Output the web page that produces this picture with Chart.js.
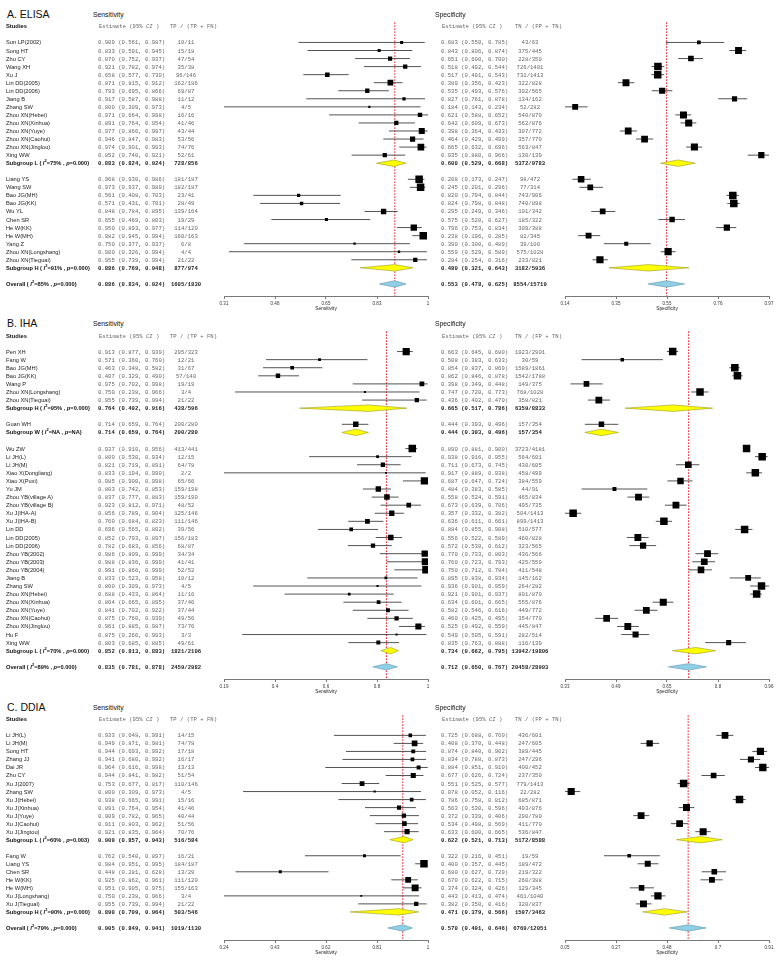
<!DOCTYPE html>
<html><head><meta charset="utf-8">
<script src="https://cdn.jsdelivr.net/npm/chart.js@4/dist/chart.umd.min.js"></script>
<style>
html,body{margin:0;padding:0;background:#fff;}
#page{position:relative;width:778px;height:962px;overflow:hidden;background:#fff;}
.t{position:absolute;white-space:pre;line-height:1;}
.t sup{font-size:70%;line-height:0;vertical-align:super;}
canvas{position:absolute;}
</style></head><body><div id="page"></div>
<script>
// ================= DATA =================
// ---- A. ELISA ----
const A_labels = ["Sun LP(2002)","Song HT","Zhu CY","Wang XH","Xu J","Lin DD(2005)","Lin DD(2006)","Jiang B","Zhang SW","Zhou XN(Hebei)","Zhou XN(Xinhua)","Zhou XN(Yuye)","Zhou XN(Caohui)","Zhou XN(Jinglou)","Xing WW","Subgroup L ( I²=75% , p=0.000)","","Liang YS","Wang SW","Bao JG(MH)","Bao JG(KK)","Wu YL","Chen SR","He W(KK)","He W(MH)","Yang Z","Zhou XN(Longshang)","Zhou XN(Tieguai)","Subgroup H ( I²=91% , p=0.000)","","Overall ( I²=85% , p=0.000)"];
const A_kind = "sssssssssssssssg-sssssssssssg-o";
const A_sensEst = [0.909,0.833,0.870,0.921,0.658,0.871,0.793,0.917,0.800,0.971,0.891,0.977,0.946,0.974,0.852,0.883,null,0.968,0.973,0.561,0.571,0.848,0.655,0.950,0.982,0.750,0.900,0.955,0.886,null,0.886];
const A_sensLo = [0.561,0.591,0.752,0.782,0.577,0.815,0.695,0.587,0.309,0.664,0.764,0.866,0.847,0.901,0.740,0.824,null,0.930,0.937,0.408,0.431,0.784,0.469,0.893,0.945,0.377,0.326,0.739,0.769,null,0.834];
const A_sensHi = [0.987,0.945,0.937,0.974,0.730,0.912,0.866,0.988,0.973,0.998,0.954,0.997,0.983,0.993,0.921,0.924,null,0.986,0.989,0.703,0.701,0.895,0.803,0.977,0.994,0.937,0.994,0.994,0.948,null,0.924];
const A_tp = ["10/11","15/18","47/54","35/38","96/146","162/186","69/87","11/12","4/5","16/16","41/46","43/44","53/56","74/76","52/61","728/856","","181/187","182/187","23/41","28/49","139/164","19/29","114/120","160/163","6/8","4/4","21/22","877/974","","1605/1830"];
const A_specEst = [0.683,0.843,0.651,0.518,0.517,0.389,0.535,0.827,0.184,0.621,0.642,0.398,0.464,0.665,0.935,0.600,null,0.208,0.245,0.820,0.824,0.295,0.575,0.796,0.238,0.390,0.559,0.284,0.480,null,0.553];
const A_specLo = [0.550,0.806,0.600,0.492,0.491,0.356,0.493,0.761,0.143,0.588,0.609,0.364,0.429,0.632,0.880,0.529,null,0.173,0.201,0.794,0.798,0.249,0.520,0.753,0.196,0.300,0.529,0.254,0.321,null,0.478];
const A_specHi = [0.785,0.874,0.700,0.544,0.543,0.423,0.576,0.878,0.234,0.652,0.673,0.433,0.499,0.696,0.966,0.668,null,0.247,0.296,0.844,0.848,0.346,0.627,0.834,0.285,0.489,0.589,0.316,0.643,null,0.625];
const A_tn = ["43/63","375/445","228/350","726/1401","731/1413","322/828","302/565","134/162","52/282","540/870","562/876","307/772","357/770","563/847","130/139","5372/9783","","98/472","77/314","743/906","740/898","101/342","185/322","309/388","82/345","39/100","575/1028","233/821","3182/5936","","8554/15719"];
const A_sensAxis = [0.309, 0.998];
const A_sensTicks = ["0.31","0.48","0.65","0.83","1"];
const A_specAxis = [0.143, 0.966];
const A_specTicks = ["0.14","0.35","0.55","0.76","0.97"];

// ---- B. IHA ----
const B_labels = ["Pen XH","Fang W","Bao JG(MH)","Bao JG(KK)","Wang P","Zhou XN(Longshang)","Zhou XN(Tieguai)","Subgroup H ( I²=95% , p=0.000)","","Guan WH","Subgroup W ( I²=NA , p=NA)","","Wu ZW","Li JH(L)","Li JH(M)","Xiao X(Dongliang)","Xiao X(Puxi)","Yu JM","Zhou YB(village A)","Zhou YB(village B)","Xu J(IHA-A)","Xu J(IHA-B)","Lin DD","Lin DD(2005)","Lin DD(2006)","Zhou YB(2002)","Zhou YB(2003)","Zhou YB(2004)","Jiang B","Zhang SW","Zhou XN(Hebei)","Zhou XN(Xinhua)","Zhou XN(Yuye)","Zhou XN(Caohui)","Zhou XN(Jinglou)","Hu F","Xing WW","Subgroup L ( I²=70% , p=0.000)","","Overall ( I²=89% , p=0.000)"];
const B_kind = "sssssssg-sg-sssssssssssssssssssssssssg-o";
const B_sensEst = [0.913,0.571,0.463,0.407,0.975,0.750,0.955,0.764,null,0.714,0.714,null,0.937,0.800,0.821,0.833,0.985,0.803,0.837,0.923,0.856,0.760,0.696,0.852,0.782,0.986,0.988,0.991,0.833,0.800,0.688,0.804,0.841,0.875,0.961,0.875,0.803,0.852,null,0.835];
const B_sensLo = [0.877,0.360,0.348,0.329,0.702,0.238,0.739,0.492,null,0.659,0.659,null,0.910,0.530,0.719,0.194,0.900,0.742,0.777,0.812,0.789,0.684,0.565,0.793,0.683,0.809,0.836,0.866,0.523,0.309,0.433,0.665,0.702,0.760,0.885,0.266,0.685,0.813,null,0.781];
const B_sensHi = [0.939,0.760,0.582,0.490,0.998,0.966,0.994,0.916,null,0.764,0.764,null,0.956,0.934,0.891,0.990,0.998,0.853,0.883,0.971,0.904,0.823,0.802,0.897,0.856,0.999,0.999,0.999,0.958,0.973,0.864,0.895,0.922,0.939,0.987,0.993,0.885,0.883,null,0.878];
const B_tp = ["295/323","12/21","31/67","57/140","19/19","3/4","21/22","438/596","","200/280","200/280","","413/441","12/15","64/78","2/2","65/66","159/198","159/190","48/52","125/146","111/146","39/56","156/183","68/87","34/34","41/41","52/52","10/12","4/5","11/16","37/46","37/44","49/56","73/76","3/3","49/61","1821/2106","","2459/2982"];
const B_specEst = [0.663,0.508,0.854,0.862,0.398,0.747,0.436,0.665,null,0.444,0.444,null,0.890,0.938,0.711,0.917,0.687,0.484,0.558,0.673,0.357,0.636,0.884,0.556,0.572,0.770,0.760,0.750,0.895,0.936,0.921,0.634,0.582,0.460,0.525,0.549,0.835,0.734,null,0.712];
const B_specLo = [0.645,0.383,0.837,0.846,0.349,0.720,0.402,0.517,null,0.393,0.393,null,0.881,0.916,0.673,0.889,0.647,0.383,0.524,0.639,0.332,0.611,0.855,0.522,0.530,0.733,0.723,0.712,0.838,0.901,0.901,0.601,0.546,0.425,0.492,0.505,0.763,0.662,null,0.650];
const B_specHi = [0.680,0.633,0.869,0.878,0.448,0.773,0.470,0.786,null,0.496,0.496,null,0.900,0.955,0.745,0.938,0.724,0.585,0.591,0.706,0.382,0.661,0.908,0.589,0.612,0.803,0.793,0.784,0.934,0.959,0.937,0.665,0.616,0.495,0.559,0.591,0.888,0.795,null,0.767];
const B_tn = ["1923/2901","30/59","1589/1861","1542/1788","149/375","768/1028","358/821","6359/8833","","157/354","157/354","","3723/4181","564/601","430/605","458/499","384/559","44/91","465/834","495/735","504/1413","899/1413","510/577","460/828","323/565","436/566","425/559","411/548","145/162","264/282","801/870","555/876","449/772","354/770","445/847","282/514","116/139","13942/19806","","20458/28993"];
const B_sensAxis = [0.194, 0.999];
const B_sensTicks = ["0.19","0.4","0.6","0.8","1"];
const B_specAxis = [0.332, 0.959];
const B_specTicks = ["0.33","0.49","0.65","0.8","0.96"];

// ---- C. DDIA ----
const C_labels = ["Li JH(L)","Li JH(M)","Song HT","Zhang JJ","Dai JR","Zhu CY","Xu J(2007)","Zhang SW","Xu J(Hebei)","Xu J(Xinhua)","Xu J(Yuye)","Xu J(Caohui)","Xu J(Jingtou)","Subgroup L ( I²=60% , p=0.003)","","Fang W","Liang YS","Chen SR","He W(KK)","He W(MH)","Xu J(Longshang)","Xu J(Tiegual)","Subgroup H ( I²=90% , p=0.000)","","Overall ( I²=79% , p=0.000)"];
const C_kind = "sssssssssssssg-sssssssg-o";
const C_sensEst = [0.933,0.949,0.944,0.941,0.964,0.944,0.753,0.800,0.938,0.891,0.909,0.911,0.921,0.909,null,0.762,0.984,0.448,0.925,0.951,0.750,0.955,0.890,null,0.905];
const C_sensLo = [0.648,0.871,0.693,0.680,0.616,0.841,0.677,0.309,0.665,0.764,0.782,0.803,0.835,0.857,null,0.540,0.951,0.281,0.862,0.905,0.238,0.739,0.709,null,0.849];
const C_sensHi = [0.991,0.981,0.992,0.992,0.998,0.982,0.817,0.973,0.991,0.954,0.965,0.962,0.964,0.943,null,0.897,0.995,0.628,0.961,0.975,0.966,0.994,0.964,null,0.941];
const C_tp = ["14/15","74/78","17/18","16/17","13/13","51/54","110/146","4/5","15/16","41/46","40/44","51/56","70/76","516/584","","16/21","184/187","13/29","111/120","155/163","3/4","21/22","503/546","","1019/1130"];
const C_specEst = [0.725,0.408,0.874,0.834,0.884,0.677,0.551,0.078,0.786,0.563,0.372,0.534,0.633,0.622,null,0.322,0.400,0.680,0.670,0.374,0.443,0.382,0.471,null,0.570];
const C_specLo = [0.688,0.370,0.840,0.788,0.851,0.626,0.525,0.052,0.758,0.530,0.339,0.498,0.600,0.521,null,0.216,0.357,0.627,0.622,0.324,0.413,0.350,0.379,null,0.491];
const C_specHi = [0.760,0.448,0.902,0.873,0.910,0.724,0.577,0.116,0.812,0.596,0.406,0.569,0.665,0.713,null,0.451,0.445,0.729,0.715,0.426,0.474,0.416,0.566,null,0.646];
const C_tn = ["436/601","247/605","389/445","247/296","400/452","237/350","779/1413","22/282","685/871","493/876","290/780","411/770","536/847","5172/8588","","19/59","189/472","219/322","260/388","129/345","461/1040","320/837","1597/3463","","6769/12051"];
const C_sensAxis = [0.238, 0.999];
const C_sensTicks = ["0.24","0.43","0.62","0.81","1"];
const C_specAxis = [0.052, 0.910];
const C_specTicks = ["0.05","0.27","0.48","0.7","0.91"];

// ================= LAYOUT / STYLE =================
const ROW = 8.15;
const SENS_PX = [224, 428];
const SPEC_PX = [565, 769];
const SANS = "'Liberation Sans', Arial, sans-serif";
const MONO = "'Liberation Mono', 'Courier New', monospace";
const page = document.getElementById('page');

function txt(html, x, y, font, color, align) {
  const d = document.createElement('div');
  d.className = 't';
  d.innerHTML = html;
  d.style.left = x + 'px';
  d.style.top = y + 'px';
  d.style.font = font;
  d.style.color = color;
  const tx = align === 'center' ? '-50%' : (align === 'right' ? '-100%' : '0');
  d.style.transform = 'translate(' + tx + ',-50%)';
  page.appendChild(d);
}

function markSide(count, p) {
  const n = +count.split('/')[1];
  const w = n / (p * (1 - p));
  return Math.max(1.8, Math.min(7.5, 0.9 * Math.pow(w, 0.25)));
}

function forest(y0, kind, est, lo, hi, counts, axis, tickLabels, axisTitle, px) {
  const n = kind.length;
  const top = Math.round(y0 - 3 * ROW - 2);
  const h = Math.round(2 + (n + 3.5) * ROW + 16);
  const left = px[0] - 12, w = px[1] - px[0] + 24;
  const cv = document.createElement('canvas');
  cv.width = w; cv.height = h;
  cv.style.left = left + 'px'; cv.style.top = top + 'px';
  cv.style.width = w + 'px'; cv.style.height = h + 'px';
  page.appendChild(cv);

  const ci = [], sq = [], rad = [], datasets = [];
  const ov = est[n - 1];
  datasets.push({
    data: [{x: ov, y: -2.5}, {x: ov, y: n + 0.5}], showLine: true,
    borderColor: '#e8000b', borderWidth: 0.9, borderDash: [1.6, 1.4],
    pointRadius: 0, order: 10
  });
  for (let i = 0; i < n; i++) {
    const k = kind[i];
    if (k === 's') {
      ci.push({x: lo[i], y: i}, {x: hi[i], y: i}, {x: null, y: null});
      sq.push({x: est[i], y: i});
      rad.push(markSide(counts[i], est[i]) / (2 * Math.SQRT1_2));
    } else if (k === 'g' || k === 'o') {
      const hh = 0.4;
      datasets.push({
        data: [{x: lo[i], y: i}, {x: est[i], y: i - hh}, {x: hi[i], y: i}, {x: est[i], y: i + hh}, {x: lo[i], y: i}],
        showLine: true, fill: 'shape', tension: 0,
        backgroundColor: k === 'g' ? '#ffff00' : '#8fd0e6',
        borderColor: k === 'g' ? '#9a9a20' : '#5d93ab',
        borderWidth: 0.6, pointRadius: 0, order: 3
      });
    }
  }
  datasets.push({
    data: ci, showLine: true, spanGaps: false, borderColor: '#404040',
    borderWidth: 0.9, pointRadius: 0, order: 5
  });
  datasets.push({
    data: sq, showLine: false, pointStyle: 'rect', pointRadius: rad,
    pointBackgroundColor: '#000', pointBorderWidth: 0, order: 1
  });

  return new Chart(cv, {
    type: 'scatter',
    data: {datasets},
    options: {
      responsive: false, animation: false, devicePixelRatio: 1,
      layout: {padding: {left: 12, right: 12, top: 2, bottom: 0}},
      plugins: {legend: {display: false}, tooltip: {enabled: false}},
      scales: {
        x: {
          type: 'linear', min: axis[0], max: axis[1], position: 'bottom',
          afterBuildTicks: s => { s.ticks = tickLabels.map((t, k) => ({value: axis[0] + k * (axis[1] - axis[0]) / 4})); },
          afterFit: s => { s.height = 16; },
          ticks: {callback: (v, i) => tickLabels[i], font: {size: 4.5, family: SANS}, color: '#333', padding: 2, maxRotation: 0, autoSkip: false},
          grid: {drawOnChartArea: false, drawTicks: true, tickLength: 3, color: '#555', lineWidth: 0.8},
          border: {display: true, color: '#555', width: 0.8},
          title: {display: true, text: axisTitle, font: {size: 4.8, family: SANS}, color: '#222', padding: 0}
        },
        y: {type: 'linear', display: false, min: -3, max: n + 0.5, reverse: true}
      }
    }
  });
}

function labelHtml(s) {
  return s.replace('I²', '<i>I</i><sup>2</sup>').replace('p=', '<i>p</i>=');
}
function f3(v) { return v.toFixed(3); }

function panel(title, y0, labels, kind, sE, sL, sH, tp, pE, pL, pH, tn, sAx, sTk, pAx, pTk) {
  const cS = forest(y0, kind, sE, sL, sH, tp, sAx, sTk, 'Sensitivity', SENS_PX);
  forest(y0, kind, pE, pL, pH, tn, pAx, pTk, 'Specificity', SPEC_PX);
  const off = parseFloat(cS.canvas.style.top);
  const yOf = i => off + cS.scales.y.getPixelForValue(i);
  const yh1 = yOf(0) - 28.5, yh2 = yOf(0) - 16;
  txt(title, 7, yh1, '10.5px ' + SANS, '#111', 'left');
  txt('Sensitivity', 93, yh1, '6.8px ' + SANS, '#111', 'left');
  txt('Specificity', 435, yh1, '6.8px ' + SANS, '#111', 'left');
  txt('Studies', 6, yh2, 'bold 5.8px ' + SANS, '#111', 'left');
  txt('Estimate (95% <i>CI</i> )', 99, yh2, '5.6px ' + MONO, '#666', 'left');
  txt('TP / (TP + FN)', 170, yh2, '5.6px ' + MONO, '#666', 'left');
  txt('Estimate (95% <i>CI</i> )', 442, yh2, '5.6px ' + MONO, '#666', 'left');
  txt('TN / (FP + TN)', 515, yh2, '5.6px ' + MONO, '#666', 'left');
  for (let i = 0; i < kind.length; i++) {
    const k = kind[i];
    if (k === '-') continue;
    const y = yOf(i);
    const bold = (k === 'g' || k === 'o');
    txt(bold ? labelHtml(labels[i]) : labels[i], 6, y, (bold ? 'bold ' : '') + '5.7px ' + SANS, bold ? '#111' : '#222', 'left');
    const mf = (bold ? 'bold ' : '') + '5.6px ' + MONO, mc = bold ? '#222' : '#666';
    txt(f3(sE[i]) + ' (' + f3(sL[i]) + ', ' + f3(sH[i]) + ')', 98, y, mf, mc, 'left');
    txt(tp[i], 186, y, mf, mc, 'center');
    txt(f3(pE[i]) + ' (' + f3(pL[i]) + ', ' + f3(pH[i]) + ')', 441, y, mf, mc, 'left');
    txt(tn[i], 530, y, mf, mc, 'center');
  }
}

panel('A. ELISA', 39, A_labels, A_kind, A_sensEst, A_sensLo, A_sensHi, A_tp, A_specEst, A_specLo, A_specHi, A_tn, A_sensAxis, A_sensTicks, A_specAxis, A_specTicks);
panel('B. IHA', 348.7, B_labels, B_kind, B_sensEst, B_sensLo, B_sensHi, B_tp, B_specEst, B_specLo, B_specHi, B_tn, B_sensAxis, B_sensTicks, B_specAxis, B_specTicks);
panel('C. DDIA', 732.3, C_labels, C_kind, C_sensEst, C_sensLo, C_sensHi, C_tp, C_specEst, C_specLo, C_specHi, C_tn, C_sensAxis, C_sensTicks, C_specAxis, C_specTicks);
</script>
</body></html>
